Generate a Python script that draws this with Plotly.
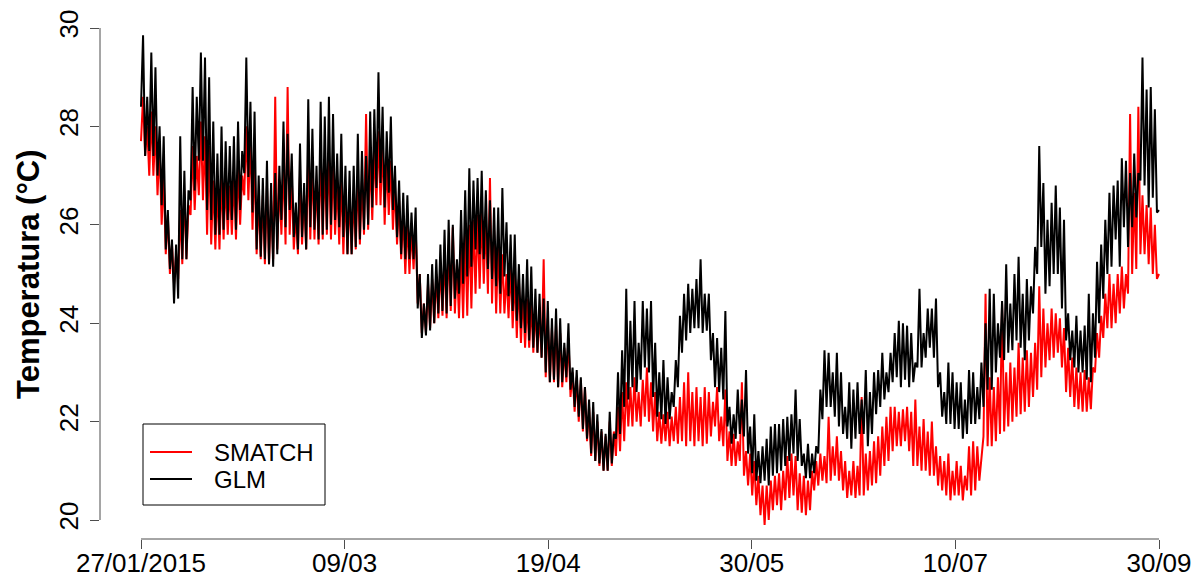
import numpy as np
import plotly.graph_objects as go

# Axis labels along the sample index
tick_labels = ["27/01/2015", "09/03", "19/04", "30/05", "10/07", "30/09"]
y_ticks = [20, 22, 24, 26, 28, 30]
series_names = ["SMATCH", "GLM"]
series_colors = ["#ff0000", "#000000"]

# Daily minimum / maximum water temperature (°C), GLM model
glm_min = [
    28.4, 27.4, 27.5, 27.4, 27.0, 26.4, 25.5, 25.1, 24.4, 24.5,
    25.3, 25.3, 26.5, 26.7, 27.3, 27.3, 26.3, 26.1, 25.8, 25.8,
    25.9, 26.1, 26.1, 25.9, 26.3, 27.05, 26.97, 26.25, 25.5, 25.35,
    25.3, 25.2, 25.15, 25.4, 26.1, 25.95, 26.3, 25.75, 25.5, 25.75,
    25.5, 25.95, 25.9, 25.7, 25.8, 25.9, 26.0, 26.1, 25.95, 25.75,
    25.4, 25.4, 25.55, 25.7, 25.9, 26.0, 26.35, 26.75, 26.85, 26.35,
    26.65, 26.3, 25.75, 25.4, 25.3, 25.3, 25.3, 24.3, 23.7, 23.75,
    23.85, 24.0, 24.2, 24.25, 24.2, 24.35, 24.5, 24.6, 24.8, 24.95,
    25.15, 25.5, 25.4, 25.3, 25.1, 24.9, 24.75, 24.6, 24.95, 24.55,
    24.25, 24.05, 23.9, 23.8, 23.65, 23.5, 23.4, 23.3, 23.0, 22.8,
    22.85, 22.7, 22.8, 22.9, 22.65, 22.3, 22.1, 21.85, 21.65, 21.35,
    21.2, 21.15, 21.0, 21.0, 21.15, 21.65, 21.75, 22.3, 22.45, 22.7,
    22.6, 22.85, 23.1, 23.0, 22.5, 22.1, 22.05, 21.95, 22.05, 22.3,
    22.7, 23.4, 23.65, 23.8, 23.9, 23.9, 23.8, 23.85, 23.25, 22.7,
    22.6, 22.45, 21.9, 21.55, 21.65, 21.75, 21.7, 21.35, 20.95, 20.8,
    20.75, 20.8, 20.7, 20.9, 20.95, 21.0, 21.1, 21.2, 21.35, 21.2,
    21.1, 20.85, 20.85, 20.95, 21.35, 22.05, 22.3, 22.3, 22.1, 21.9,
    21.75, 21.65, 21.45, 21.65, 21.75, 21.75, 21.5, 21.75, 22.15, 22.3,
    22.45, 22.6, 22.8, 22.9, 22.7, 22.85, 22.7, 22.8, 23.1, 23.1,
    23.3, 23.5, 23.3, 22.7, 22.1, 21.95, 21.95, 21.85, 21.85, 21.65,
    21.75, 21.95, 21.95, 22.05, 22.3, 22.65, 22.65, 23.0, 23.3, 23.25,
    23.4, 23.45, 23.65, 23.5, 23.25, 23.65, 24.2, 25.0, 25.55, 24.6,
    24.75, 25.0, 25.0, 24.3, 23.65, 23.25, 23.1, 23.0, 23.0, 22.85,
    22.8, 23.3, 24.0, 24.5, 25.0, 25.15, 25.7, 25.15, 25.95, 25.55,
    25.95, 26.15, 26.9, 26.8, 26.35, 26.55, 26.25,
]
glm_max = [
    29.85, 28.6, 29.5, 29.2, 28.0, 27.8, 26.3, 25.7, 25.6, 27.8,
    27.1, 26.7, 28.8, 28.6, 29.5, 29.4, 29.0, 28.1, 27.45, 28.0,
    27.7, 27.6, 27.8, 28.1, 27.5, 29.4, 28.5, 28.3, 27.0, 26.95,
    27.3, 26.85, 27.05, 27.2, 28.1, 27.85, 27.45, 26.45, 27.65, 26.85,
    28.55, 27.95, 27.2, 28.5, 28.2, 28.6, 28.25, 27.45, 27.85, 27.2,
    27.1, 27.2, 27.85, 27.5, 27.4, 28.3, 28.35, 29.1, 28.4, 27.9,
    28.2, 27.2, 26.9, 26.65, 26.6, 26.25, 26.35, 25.0, 24.4, 25.0,
    25.2, 25.3, 25.6, 25.9, 26.1, 26.0, 25.3, 26.3, 26.7, 27.15,
    26.9, 26.95, 27.1, 26.7, 26.5, 26.35, 26.35, 26.75, 26.05, 25.8,
    25.8, 25.2, 25.0, 25.3, 25.15, 24.7, 24.6, 24.5, 24.45, 24.1,
    24.3, 24.1, 23.6, 24.0, 23.1, 23.05, 22.9, 22.7, 22.45, 22.4,
    22.15, 21.85, 21.75, 22.2, 21.75, 23.0, 23.45, 24.7, 24.05, 24.45,
    23.6, 24.45, 24.3, 24.45, 23.6, 23.0, 23.25, 22.9, 22.6, 23.25,
    24.15, 24.6, 24.8, 24.7, 24.9, 25.3, 24.6, 24.6, 23.8, 23.7,
    23.5, 24.25, 22.3, 22.15, 22.65, 22.45, 23.05, 21.9, 22.15, 21.4,
    21.5, 21.65, 21.9, 21.95, 21.95, 22.05, 22.1, 22.15, 22.65, 22.05,
    21.35, 21.55, 21.35, 21.5, 22.65, 23.45, 23.4, 23.0, 23.4, 23.0,
    22.3, 22.8, 22.65, 22.8, 22.45, 23.05, 22.6, 23.0, 23.05, 23.4,
    23.0, 23.4, 23.8, 24.05, 24.0, 23.95, 23.8, 23.2, 24.7, 23.8,
    24.3, 24.3, 24.5, 23.0, 22.6, 23.2, 23.0, 22.8, 22.8, 22.45,
    23.05, 23.0, 22.7, 23.2, 24.0, 24.7, 24.6, 24.0, 24.45, 25.2,
    24.4, 25.0, 25.35, 24.6, 24.9, 24.75, 25.55, 27.6, 26.85, 26.1,
    26.45, 26.8, 26.35, 26.1, 24.2, 23.85, 24.15, 23.85, 23.95, 24.6,
    24.2, 25.25, 25.6, 26.1, 26.65, 26.8, 26.9, 27.35, 27.3, 27.05,
    27.45, 27.05, 29.4, 28.75, 28.8, 28.35, 26.3,
]

# Daily minimum / maximum water temperature (°C), SMATCH model
smatch_min = [
    27.7, 27.4, 27.0, 27.0, 26.6, 26.0, 25.4, 25.0, 24.8, 24.9,
    25.2, 25.3, 26.2, 26.3, 26.6, 26.5, 25.8, 25.6, 25.5, 25.5,
    25.7, 25.8, 25.8, 25.7, 26.0, 26.6, 26.5, 25.9, 25.4, 25.3,
    25.2, 25.2, 25.3, 25.5, 25.8, 25.6, 25.8, 25.5, 25.4, 25.6,
    25.5, 25.7, 25.7, 25.6, 25.7, 25.8, 25.7, 25.8, 25.6, 25.4,
    25.4, 25.4, 25.5, 25.6, 25.8, 25.9, 26.1, 26.4, 26.4, 26.0,
    26.2, 25.9, 25.6, 25.3, 25.0, 25.0, 25.1, 24.4, 23.8, 23.8,
    23.9, 24.0, 24.1, 24.15, 24.1, 24.25, 24.2, 24.1, 24.1, 24.15,
    24.3, 24.6, 24.7, 24.8, 24.6, 24.4, 24.2, 24.2, 24.2, 24.1,
    23.9, 23.7, 23.6, 23.5, 23.5, 23.4, 23.4, 23.3, 22.9, 22.8,
    22.8, 22.7, 22.7, 22.8, 22.5, 22.2, 22.0, 21.8, 21.6, 21.3,
    21.2, 21.1, 21.0, 21.0, 21.1, 21.3, 21.4, 21.6, 21.9, 21.9,
    22.0, 21.9, 22.1, 22.0, 21.8, 21.6, 21.55, 21.6, 21.5, 21.6,
    21.55, 21.6, 21.5, 21.6, 21.5, 21.6, 21.5, 21.55, 21.7, 21.9,
    21.6, 21.5, 21.2, 21.1, 21.1, 21.2, 20.9, 20.7, 20.5, 20.3,
    20.1, 19.9, 20.0, 20.2, 20.3, 20.2, 20.4, 20.45, 20.5, 20.2,
    20.15, 20.1, 20.2, 20.6, 20.7, 20.8, 20.75, 20.8, 20.9, 20.8,
    20.6, 20.45, 20.5, 20.45, 20.5, 20.5, 20.6, 20.7, 20.75, 20.9,
    21.1, 21.2, 21.4, 21.5, 21.5, 21.6, 21.4, 21.1, 21.1, 21.0,
    21.0, 20.9, 20.9, 20.7, 20.6, 20.5, 20.4, 20.5, 20.5, 20.4,
    20.6, 20.5, 20.6, 20.8, 21.7, 21.5, 21.5, 21.6, 21.75, 21.8,
    21.9, 22.0, 22.1, 22.15, 22.2, 22.3, 22.5, 22.65, 22.9, 23.1,
    23.25, 23.3, 23.4, 23.1, 22.6, 22.5, 22.3, 22.25, 22.2, 22.2,
    22.25, 23.0, 23.3, 23.7, 23.9, 23.9, 24.0, 24.2, 24.3, 24.6,
    25.0, 25.1, 25.4, 25.4, 25.2, 25.0, 24.9,
]
smatch_max = [
    28.6, 28.0, 28.3, 28.0, 27.6, 27.0, 26.2, 25.6, 25.4, 26.3,
    26.7, 26.4, 27.6, 27.4, 28.1, 27.8, 27.6, 26.9, 26.8, 27.0,
    26.9, 26.8, 27.0, 27.2, 27.0, 28.0, 27.8, 27.4, 26.6, 26.6,
    26.8, 26.5, 28.6, 26.9, 27.3, 28.8, 27.0, 26.2, 27.0, 26.6,
    27.5, 27.3, 26.9, 27.5, 27.3, 27.5, 27.3, 26.9, 27.0, 26.7,
    26.6, 26.6, 27.0, 26.9, 28.25, 27.4, 27.6, 27.9, 27.7, 27.3,
    27.3, 26.8, 26.5, 26.2, 26.1, 25.9, 26.0, 25.0, 24.4, 24.8,
    24.9, 25.0, 25.2, 25.4, 25.6, 25.95, 25.2, 25.5, 25.8, 26.0,
    26.1, 26.2, 26.3, 26.1, 26.95, 25.9, 25.6, 25.4, 25.0, 25.2,
    25.0, 24.9, 24.6, 24.5, 24.4, 24.3, 24.2, 25.3, 24.1, 23.9,
    24.0, 23.8, 23.5, 23.7, 23.0, 22.9, 22.85, 22.7, 22.3, 22.2,
    22.0, 21.8, 21.7, 22.0, 21.8, 22.3, 22.6, 22.8, 22.7, 22.9,
    22.6, 22.85, 23.1, 22.8, 22.6, 22.2, 22.15, 22.2, 22.1, 22.3,
    22.5, 22.8, 23.0, 22.6, 22.7, 22.5, 22.7, 22.6, 22.4, 22.7,
    22.1, 22.65, 21.8, 21.75, 21.6, 22.8, 21.4, 21.35, 21.2, 20.9,
    20.7, 20.7, 20.8, 20.9, 20.95, 21.0, 21.3, 21.35, 21.3, 20.95,
    20.9, 20.8, 21.0, 21.2, 21.35, 21.3, 22.1, 21.5, 21.7, 21.4,
    21.2, 21.0, 21.2, 21.1, 22.5, 21.35, 21.4, 21.6, 21.7, 21.9,
    22.1, 22.3, 22.3, 22.2, 22.25, 22.3, 22.2, 22.45, 21.9, 22.05,
    21.8, 22.0, 21.5, 21.3, 21.2, 21.35, 21.0, 21.2, 21.1, 20.9,
    21.5, 21.6, 21.5, 21.3, 24.6, 22.9, 22.7, 22.9, 24.4, 23.0,
    23.2, 23.1, 23.6, 23.3, 23.45, 23.4, 23.6, 24.75, 24.3, 24.0,
    24.3, 24.2, 24.1, 23.9, 23.5, 23.3, 23.1, 23.0, 23.05, 22.9,
    23.1, 23.8, 24.15, 24.6, 25.0, 24.8, 25.0, 25.15, 25.0, 28.25,
    26.65, 28.4, 26.6, 26.4, 26.35, 26.0, 25.0,
]


def daily_cycle(lows, highs):
    """Alternate each day's minimum and maximum into one series."""
    out = []
    for lo, hi in zip(lows, highs):
        out.extend([lo, hi])
    return out


smatch = daily_cycle(smatch_min, smatch_max)
glm = daily_cycle(glm_min, glm_max)
idx = np.arange(len(glm))
n_last = len(glm) - 1
tick_pos = np.linspace(0, n_last, len(tick_labels))

# Page geometry (pixels)
W, H = 1192, 578
ML, MR, MT, MB = 100, 0, 10, 39
x_first_px, x_last_px = 141, 1159          # first/last sample
y20_px, px_per_deg = 520, 49.2             # 20 °C line, pixels per degree
plot_w, plot_h = W - ML - MR, H - MT - MB

px_per_idx = (x_last_px - x_first_px) / n_last
x_range = [-(x_first_px - ML) / px_per_idx,
           n_last + (W - MR - x_last_px) / px_per_idx]
y_range = [20 - (H - MB - y20_px) / px_per_deg,
           20 + (y20_px - MT) / px_per_deg]


def px_x(px):
    """Page x pixel -> paper coordinate."""
    return (px - ML) / plot_w


def px_y(py):
    """Page y pixel -> paper coordinate."""
    return (H - MB - py) / plot_h


FONT = "Liberation Sans, Arial, Helvetica, sans-serif"
AXIS_COLOR = "#4d4d4d"
LINE_W = 2

fig = go.Figure()
for name, color, values in zip(series_names, series_colors, [smatch, glm]):
    fig.add_trace(go.Scatter(x=idx, y=values, mode="lines", name=name,
                             line=dict(color=color, width=LINE_W),
                             showlegend=False))

# Axis lines span only the tick range, as in base R graphics
shapes = [
    dict(type="line", xref="x", yref="paper", x0=tick_pos[0], x1=tick_pos[-1],
         y0=0, y1=0, line=dict(color=AXIS_COLOR, width=1)),
    dict(type="line", xref="paper", yref="y", x0=0, x1=0,
         y0=y_ticks[0], y1=y_ticks[-1], line=dict(color=AXIS_COLOR, width=1)),
]
annotations = [
    dict(text="<b>Temperatura (°C)</b>", textangle=-90, showarrow=False,
         xref="paper", yref="y", x=px_x(28), y=25,
         xanchor="center", yanchor="middle",
         font=dict(family=FONT, size=31, color="black")),
]

# Boxed key in the lower left corner
box_l, box_t, box_r, box_b = 143, 424, 325, 505
shapes.append(dict(type="rect", xref="paper", yref="paper",
                   x0=px_x(box_l), x1=px_x(box_r), y0=px_y(box_b), y1=px_y(box_t),
                   fillcolor="white", line=dict(color="black", width=1),
                   layer="above"))
for row, (name, color) in enumerate(zip(series_names, series_colors)):
    row_y = px_y(452 + 27 * row)
    shapes.append(dict(type="line", xref="paper", yref="paper",
                       x0=px_x(150), x1=px_x(192), y0=row_y, y1=row_y,
                       line=dict(color=color, width=LINE_W), layer="above"))
    annotations.append(dict(text=name, showarrow=False, xref="paper", yref="paper",
                            x=px_x(212), y=row_y, xanchor="left", yanchor="middle",
                            font=dict(family=FONT, size=24, color="black")))

fig.update_layout(
    width=W, height=H,
    margin=dict(l=ML, r=MR, t=MT, b=MB, pad=0, autoexpand=False),
    paper_bgcolor="white", plot_bgcolor="white",
    font=dict(family=FONT, color="black"),
    showlegend=False,
    xaxis=dict(
        range=x_range, tickmode="array", tickvals=tick_pos, ticktext=tick_labels,
        ticks="outside", ticklen=9, tickwidth=1, tickcolor=AXIS_COLOR,
        ticklabelstandoff=-8,
        showgrid=False, zeroline=False, showline=False, automargin=False,
        tickfont=dict(family=FONT, size=26, color="black"),
    ),
    yaxis=dict(
        range=y_range, tickmode="array", tickvals=y_ticks,
        ticktext=[str(v) for v in y_ticks], tickangle=-90,
        ticks="outside", ticklen=9, tickwidth=1, tickcolor=AXIS_COLOR,
        ticklabelstandoff=2,
        showgrid=False, zeroline=False, showline=False, automargin=False,
        tickfont=dict(family=FONT, size=26, color="black"),
    ),
    shapes=shapes,
    annotations=annotations,
)

fig.write_html("out.html")
